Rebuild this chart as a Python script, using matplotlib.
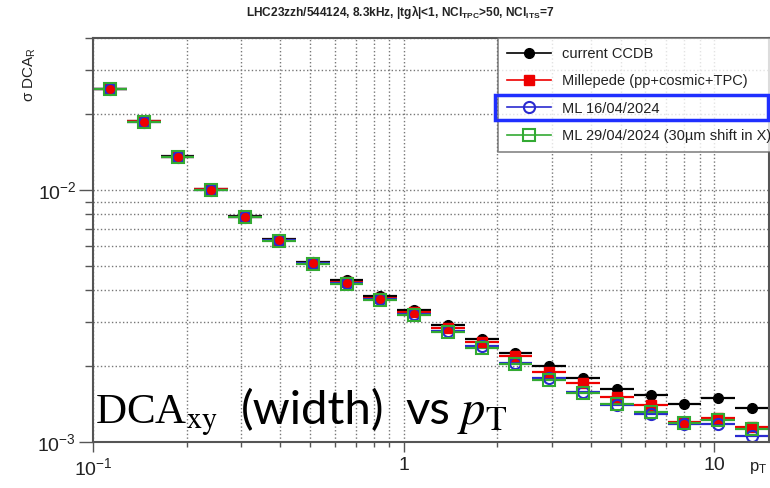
import matplotlib
matplotlib.use('Agg')
import matplotlib.pyplot as plt
import numpy as np
from matplotlib.lines import Line2D
from matplotlib.patches import Rectangle
from matplotlib.ticker import FixedLocator, NullFormatter

plt.rcParams['font.family'] = ['Liberation Sans', 'DejaVu Sans']
plt.rcParams['mathtext.fontset'] = 'custom'
plt.rcParams['mathtext.rm'] = 'Liberation Sans'
plt.rcParams['mathtext.it'] = 'Liberation Sans:italic'
plt.rcParams['mathtext.bf'] = 'Liberation Sans:bold'

# Data: pT bins (log, 0.1 - 15 GeV/c) and DCA_R width per set of alignment
pt_edges = [0.1, 0.1285, 0.1651, 0.2121, 0.2724, 0.3500, 0.4496, 0.5776, 0.7421,
            0.9533, 1.2247, 1.5734, 2.0214, 2.5969, 3.3362, 4.2861, 5.5064,
            7.0741, 9.0882, 11.676, 15.0]
ccdb = [25.2, 18.7, 13.6, 10.1, 7.85, 6.38, 5.20, 4.40, 3.80, 3.35,
        2.90, 2.56, 2.26, 2.00, 1.80, 1.62, 1.53, 1.42, 1.49, 1.37]
millepede = [25.2, 18.7, 13.55, 10.05, 7.83, 6.36, 5.15, 4.33, 3.74, 3.29,
             2.84, 2.49, 2.19, 1.90, 1.71, 1.51, 1.40, 1.20, 1.25, 1.15]
ml_1604 = [25.1, 18.6, 13.5, 10.0, 7.80, 6.32, 5.12, 4.26, 3.70, 3.21,
           2.75, 2.40, 2.06, 1.80, 1.58, 1.40, 1.29, 1.18, 1.18, 1.06]
ml_2904 = [25.1, 18.6, 13.5, 10.0, 7.78, 6.30, 5.08, 4.22, 3.67, 3.18,
           2.72, 2.36, 2.04, 1.76, 1.57, 1.42, 1.31, 1.19, 1.22, 1.13]
labels = ['current CCDB', 'Millepede (pp+cosmic+TPC)', 'ML 16/04/2024',
          'ML 29/04/2024 (30\u00b5m shift in X)']

edges = np.array(pt_edges)
centers = np.sqrt(edges[:-1] * edges[1:])
xerr = [centers - edges[:-1], edges[1:] - centers]

fig = plt.figure(figsize=(7.7, 4.88), dpi=100)
ax = fig.add_axes([93 / 770, 1 - 442 / 488, 676 / 770, 404 / 488])

styles = [
    dict(color='black', marker='o', mfc='black', ms=7),
    dict(color='#ee0000', marker='s', mfc='#ee0000', ms=7),
    dict(color='#2a2ad0', marker='o', mfc='none', ms=8, mew=1.5),
    dict(color='#33aa33', marker='s', mfc='none', ms=8, mew=1.5),
]
handles = []
for vals, st, lab in zip([ccdb, millepede, ml_1604, ml_2904], styles, labels):
    y = np.array(vals) * 1e-3
    ax.errorbar(centers, y, xerr=xerr, ls='none', elinewidth=1.6, capsize=0,
                mec=st['color'], **st)
    handles.append(Line2D([], [], lw=1.2, mec=st['color'], **st))

ax.set_xscale('log')
ax.set_yscale('log')
ax.set_xlim(0.1, 15)
ax.set_ylim(1e-3, 0.0401)

ax.set_xticks([0.1, 1, 10])
ax.set_xticklabels(['$10^{-1}$', '1', '10'])
ax.xaxis.set_minor_locator(FixedLocator([0.2, 0.3, 0.4, 0.5, 0.6, 0.7, 0.8, 0.9,
                                         2, 3, 4, 5, 6, 7, 8, 9]))
ax.xaxis.set_minor_formatter(NullFormatter())
ax.set_yticks([1e-3, 1e-2])
ax.set_yticklabels(['$10^{-3}$', '$10^{-2}$'])
ax.yaxis.set_minor_locator(FixedLocator([0.002, 0.003, 0.004, 0.005, 0.006, 0.007,
                                         0.008, 0.009, 0.02, 0.03, 0.04]))
ax.yaxis.set_minor_formatter(NullFormatter())

ax.grid(which='both', ls=':', color='#777777', lw=1)
ax.set_axisbelow(True)
for sp in ax.spines.values():
    sp.set_color('#555555')
    sp.set_linewidth(1.5)
ax.tick_params(axis='x', which='major', direction='out', length=7, width=1,
               color='#555555', labelsize=14, labelcolor='#222222', pad=4)
ax.tick_params(axis='x', which='minor', direction='out', length=3.5, width=1,
               color='#555555')
ax.tick_params(axis='y', which='major', direction='out', length=10, width=1,
               color='#555555', labelsize=14, labelcolor='#222222', pad=2)
ax.tick_params(axis='y', which='minor', direction='out', length=5.5, width=1,
               color='#555555')

fig.text(400 / 770, 1 - 12 / 488, 'LHC23zzh/544124, 8.3kHz, |tg\u03bb|<1, '
         r'NCl$_{\mathbf{TPC}}$>50, NCl$_{\mathbf{ITS}}$=7',
         ha='center', va='center', fontsize=8.6, fontweight='bold', color='#222222')
fig.text(30 / 770, 1 - 47 / 488, '\u03c3 DCA$_{\\rm R}$',
         rotation=90, ha='center', va='top', fontsize=11, color='#222222')
fig.text(758 / 770, 1 - 468 / 488, r'p$_{\rm T}$', ha='center', va='center',
         fontsize=12, color='#222222')

leg = fig.legend(handles=handles, labels=labels, loc='upper left',
                 bbox_to_anchor=(498 / 770, 1 - 38 / 488), fontsize=10.5,
                 handlelength=3.0, handletextpad=0.8, labelspacing=0.92,
                 borderpad=0.6, borderaxespad=0, frameon=True, fancybox=False)
leg.get_frame().set_edgecolor('#666666')
leg.get_frame().set_linewidth(1.2)
for t in leg.get_texts():
    t.set_color('#222222')

fig.patches.append(Rectangle((495 / 770, 1 - 120 / 488), 273 / 770, 25 / 488,
                             transform=fig.transFigure, fill=False,
                             edgecolor='#1f2fff', lw=2.5, zorder=10))

# slide annotation pasted over the plot
base = 1 - 424 / 488
fig.text(95 / 770, base, r'DCA$_{\rm xy}$', ha='left', va='baseline',
         fontsize=31, family='Liberation Serif', math_fontfamily='stix')
fig.text(241 / 770, base, '(width)', ha='left', va='baseline',
         fontsize=34, family='Lato')
fig.text(405 / 770, base, 'vs', ha='left', va='baseline',
         fontsize=34, family='Lato')
fig.text(457 / 770, base, r'$p_{\rm T}$', ha='left', va='baseline',
         fontsize=35, math_fontfamily='stix')

fig.savefig('out.png', dpi=100)
